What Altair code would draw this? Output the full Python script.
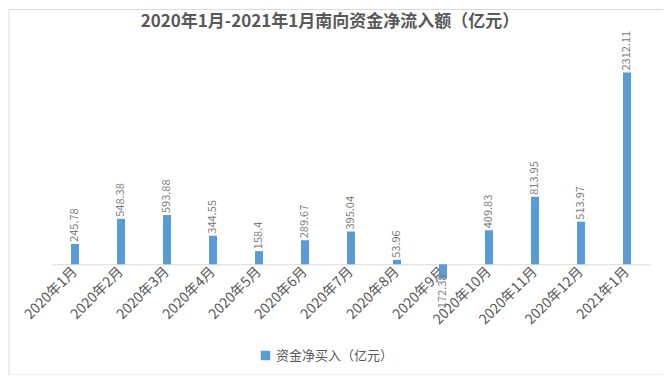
import altair as alt
import pandas as pd

months = ["2020年1月", "2020年2月", "2020年3月", "2020年4月", "2020年5月", "2020年6月",
          "2020年7月", "2020年8月", "2020年9月", "2020年10月", "2020年11月", "2020年12月", "2021年1月"]
values = [245.78, 548.38, 593.88, 344.55, 158.4, 289.67, 395.04, 53.96, -172.38,
          409.83, 813.95, 513.97, 2312.11]
series_name = "资金净买入（亿元）"
title_text = "2020年1月-2021年1月南向资金净流入额（亿元）"

df = pd.DataFrame({"month": months, "value": values,
                   "label": [str(v) for v in values],
                   "series": [series_name] * len(values)})

FONT = "Noto Sans CJK SC"
W, H = 598, 228
YMIN, YMAX = -250, 2500
axis_offset = -(0 - YMIN) * H / (YMAX - YMIN)

x_enc = alt.X("month:N", sort=None, title=None,
              scale=alt.Scale(paddingInner=0.0, paddingOuter=0.0),
              axis=alt.Axis(labelAngle=-45, labelFontSize=14, labelColor="#595959",
                            labelFont=FONT, ticks=False, domainColor="#d9d9d9",
                            domainWidth=1, labelPadding=5, offset=axis_offset,
                            labelAlign="right", labelBaseline="middle"))
y_enc = alt.Y("value:Q", scale=alt.Scale(domain=[YMIN, YMAX], nice=False), axis=None)

bars = alt.Chart(df).mark_bar(size=8).encode(
    x=x_enc, y=y_enc,
    color=alt.Color("series:N", scale=alt.Scale(range=["#5B9BD5"]),
                    legend=alt.Legend(title=None, orient="none", legendX=207, legendY=292,
                                      symbolType="square", symbolSize=90,
                                      labelFontSize=13, labelColor="#595959", labelFont=FONT,
                                      symbolStrokeWidth=0))
)

pos_labels = alt.Chart(df).transform_filter("datum.value >= 0").mark_text(
    angle=270, align="left", baseline="middle", dx=2, fontSize=11,
    color="#7a7a7a", font=FONT
).encode(x=alt.X("month:N", sort=None), y=y_enc, text="label:N")

neg_labels = alt.Chart(df).transform_filter("datum.value < 0").mark_text(
    angle=270, align="right", baseline="middle", dx=4, fontSize=11,
    color="#7a7a7a", font=FONT
).encode(x=alt.X("month:N", sort=None), y=y_enc, text="label:N")

border = alt.Chart(pd.DataFrame({"a": [0]})).mark_rect(
    fill=None, stroke="#d9d9d9", strokeWidth=1
).encode(x=alt.value(-43), x2=alt.value(612), y=alt.value(-47.5), y2=alt.value(318))

title = alt.Chart(pd.DataFrame({"t": [title_text]})).mark_text(
    fontSize=17, fontWeight="bold", color="#595959", font=FONT,
    align="center", baseline="middle"
).encode(x=alt.value(278), y=alt.value(-35), text="t:N")

chart = alt.layer(border, title, bars, pos_labels, neg_labels).properties(
    width=W, height=H,
    autosize=alt.AutoSizeParams(type="none"),
    padding={"left": 44, "top": 49, "right": 13, "bottom": 90},
).configure_view(stroke=None)

chart.save("out.html", embed_options={"renderer": "svg", "actions": False})
